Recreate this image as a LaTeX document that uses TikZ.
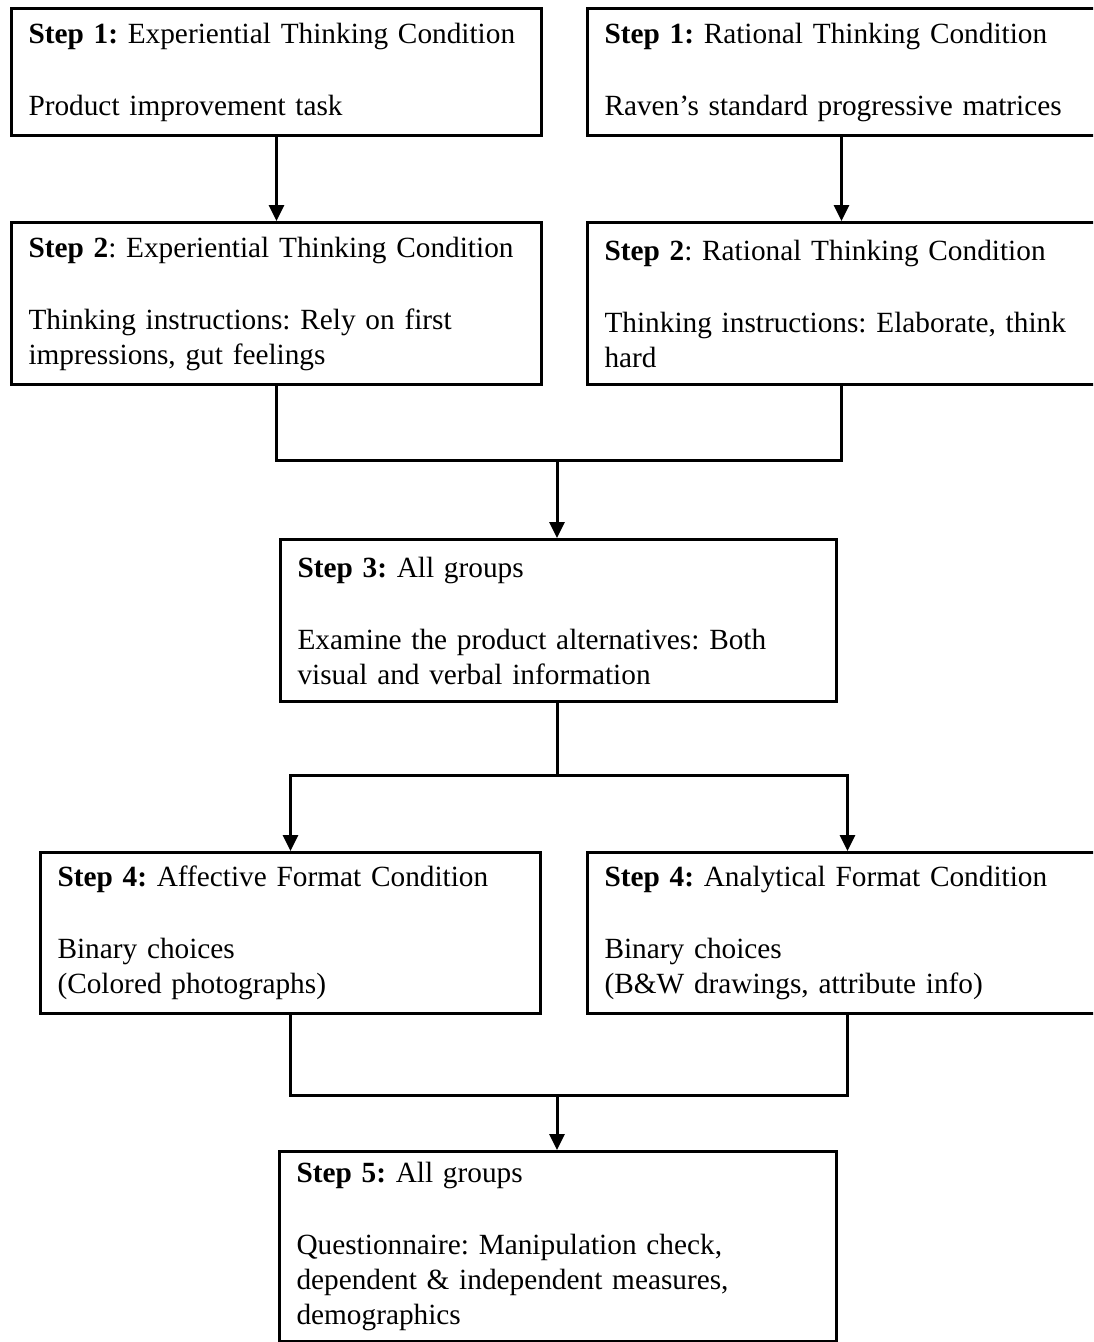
\documentclass[tikz,border=0pt]{standalone}
\usepackage{fontspec}
\setmainfont{Liberation Serif}
\usetikzlibrary{arrows.meta}
\frenchspacing
\hyphenpenalty=10000
\exhyphenpenalty=10000

\tikzset{
  stepbox/.style={draw, line width=3pt, anchor=north west, inner xsep=17pt,
    inner ysep=0pt, align=left, font=\fontsize{29.3}{35}\selectfont},
  link/.style={line width=3pt},
  flow/.style={line width=3pt, -{Triangle[width=15pt,length=16pt]}}
}

\begin{document}
\begin{tikzpicture}[x=1pt, y=1pt]
  \useasboundingbox (0,0) rectangle (1093,-1342);
  \clip (0,0) rectangle (1093,-1342);

  % step 1
  \node[stepbox, text width=496pt, minimum height=127pt] (s1l) at (10,-7)
    {\textbf{Step 1:} Experiential Thinking Condition\\[37pt]Product improvement task};
  \node[stepbox, text width=486pt, minimum height=127pt] (s1r) at (586,-7)
    {\textbf{Step 1:} Rational Thinking Condition\\[37pt]Raven's standard progressive matrices};

  % step 2
  \node[stepbox, text width=496pt, minimum height=162pt] (s2l) at (10,-221)
    {\textbf{Step 2}: Experiential Thinking Condition\\[37pt]Thinking instructions: Rely on first\\impressions, gut feelings};
  \node[stepbox, text width=486pt, minimum height=162pt] (s2r) at (586,-221)
    {\textbf{Step 2}: Rational Thinking Condition\\[37pt]Thinking instructions: Elaborate, think\\hard};

  % step 3
  \node[stepbox, text width=522pt, minimum height=162pt] (s3) at (279,-538)
    {\textbf{Step 3:} All groups\\[37pt]Examine the product alternatives: Both\\visual and verbal information};

  % step 4
  \node[stepbox, text width=466pt, minimum height=161pt] (s4l) at (39,-851)
    {\textbf{Step 4:} Affective Format Condition\\[37pt]Binary choices\\(Colored photographs)};
  \node[stepbox, text width=486pt, minimum height=161pt] (s4r) at (586,-851)
    {\textbf{Step 4:} Analytical Format Condition\\[37pt]Binary choices\\(B\&W drawings, attribute info)};

  % step 5
  \node[stepbox, text width=523pt, minimum height=190pt] (s5) at (278,-1150)
    {\textbf{Step 5:} All groups\\[37pt]Questionnaire: Manipulation check,\\dependent \& independent measures,\\demographics};

  % junction points
  \coordinate (m1) at (557,-460);
  \coordinate (sp) at (557,-775);
  \coordinate (m2) at (557,-1095);

  % connectors
  \draw[flow] (s1l.south) -- (s2l.north);
  \draw[flow] ([xshift=-6pt]s1r.south) -- ([xshift=-6pt]s2r.north);

  \draw[link] (s2l.south) |- (m1) -| ([xshift=-6pt]s2r.south);
  \draw[flow] (m1) -- (s3.north -| m1);

  \draw[link] (s3.south -| sp) -- (sp);
  \draw[flow] (sp) -| (s4l.north);
  \draw[flow] (sp) -| (s4r.north);

  \draw[link] (s4l.south) |- (m2) -| (s4r.south);
  \draw[flow] (m2) -- (s5.north -| m2);
\end{tikzpicture}
\end{document}
